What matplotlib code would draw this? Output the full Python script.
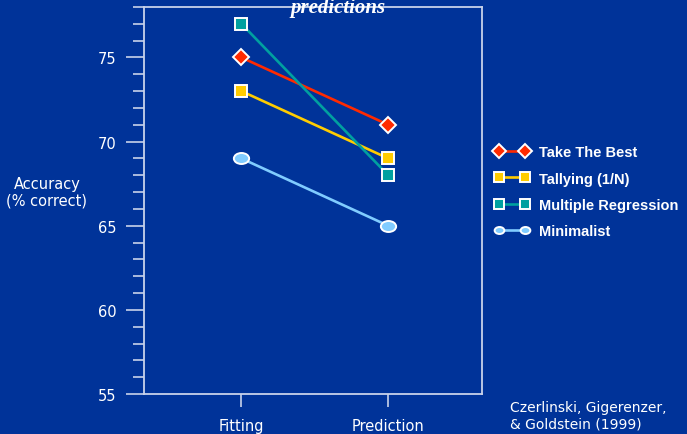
#!/usr/bin/env python3
'''Fitting vs. prediction accuracy of simple heuristics (Czerlinski et al. 1999).'''

import matplotlib
matplotlib.use('Agg')
import matplotlib.pyplot as plt
from matplotlib.path import Path
from matplotlib.transforms import Affine2D

conditions = ['Fitting', 'Prediction']
take_the_best = [75, 71]
tallying = [73, 69]
multiple_regression = [77, 68]
minimalist = [69, 65]

series_names = ['Take The Best', 'Tallying (1/N)', 'Multiple Regression', 'Minimalist']

BG = '#003399'
SPINE = '#c8d2ea'

# flattened circle for the Minimalist marker
ellipse = Path.unit_circle().transformed(Affine2D().scale(1.0, 0.72))

styles = [
    dict(color='#ff2a00', marker='D', ms=8.5),
    dict(color='#ffcc00', marker='s', ms=9),
    dict(color='#00a0a0', marker='s', ms=9),
    dict(color='#80ccff', marker=ellipse, ms=11),
]

fig = plt.figure(figsize=(6.87, 4.35), dpi=100, facecolor=BG)
ax = fig.add_axes([144 / 687, 40 / 435, 338 / 687, 387 / 435], facecolor=BG)

x = [1, 2]
for name, vals, st in zip(series_names,
                          [take_the_best, tallying, multiple_regression, minimalist], styles):
    ax.plot(x, vals, label=name, lw=1.9, color=st['color'], marker=st['marker'],
            ms=st['ms'], mfc=st['color'], mec='white', mew=1.4)

ax.set_xlim(0.337, 2.638)
ax.set_ylim(55, 78)

for s in ax.spines.values():
    s.set_color(SPINE)
    s.set_linewidth(1.3)

ax.set_yticks([55, 60, 65, 70, 75])
ax.set_yticks(range(55, 79), minor=True)
ax.tick_params(axis='y', which='major', length=13, width=1.2, color=SPINE,
               labelcolor='white', labelsize=10.5, pad=7)
ax.tick_params(axis='y', which='minor', length=8, width=1.2, color=SPINE)
ax.set_xticks(x)
ax.set_xticklabels(conditions)
ax.tick_params(axis='x', length=9.5, width=1.2, color=SPINE, labelcolor='white',
               labelsize=10.5, pad=7.5)

fig.text(47 / 687, 1 - 193 / 435, 'Accuracy\n(% correct)', color='white',
         fontsize=10.5, ha='center', va='center', linespacing=1.15)

fig.text(338 / 687, 1 - 13 / 435, 'predictions', color='white', fontsize=15,
         family='Liberation Serif', style='italic', weight='bold',
         ha='center', va='baseline')

fig.text(510 / 687, 1 - 416 / 435, 'Czerlinski, Gigerenzer,\n& Goldstein (1999)',
         color='white', fontsize=10, ha='left', va='center', linespacing=1.2)

leg = ax.legend(loc='upper left', bbox_to_anchor=(481 / 687, 1 - 133 / 435),
                bbox_transform=fig.transFigure, frameon=False, numpoints=2,
                handlelength=2.4, handletextpad=0.7, labelspacing=0.85,
                prop=dict(family='Liberation Sans', weight='bold', size=10.5))
for t in leg.get_texts():
    t.set_color('white')
for h in leg.legend_handles:
    h.set_markersize(7)

fig.savefig('out.png', dpi=100, facecolor=BG)
